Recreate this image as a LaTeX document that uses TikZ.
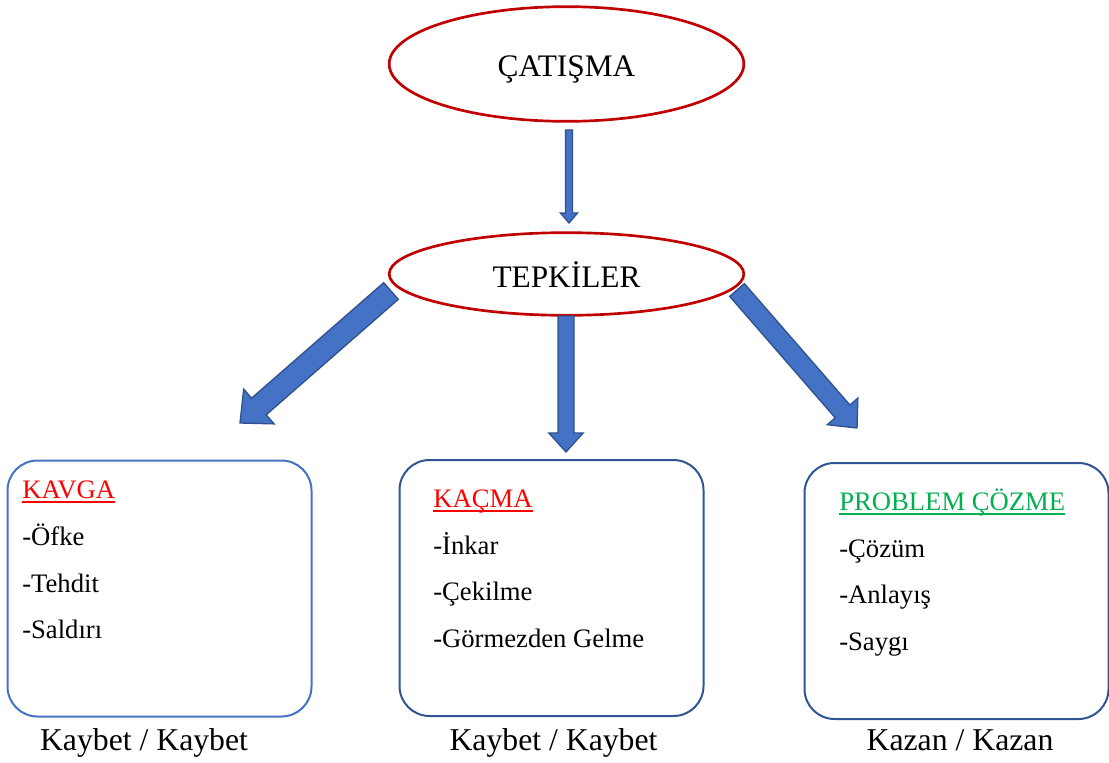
\documentclass[tikz,border=0pt]{standalone}
\usepackage{fontspec}
\setmainfont{Liberation Serif}
\usetikzlibrary{shapes.geometric,calc,positioning}
\definecolor{ellred}{HTML}{C00000}
\definecolor{boxblue}{HTML}{4472C4}
\definecolor{boxdark}{HTML}{2F5597}
\definecolor{arrowfill}{HTML}{4472C4}
\definecolor{arrowline}{HTML}{2F528F}
\definecolor{headgreen}{HTML}{00B050}
\definecolor{headred}{HTML}{FF0000}
% underlined coloured heading
\newcommand\headline[2]{{\color{#1}\setbox0\hbox{#2}\rlap{\rule[-4pt]{\wd0}{1.5pt}}\box0}}
% block arrow: tail, tip, half shaft, half head, head length
\newcommand\blockarrow[5]{%
	\coordinate (h) at ($(#2)!#5!(#1)$);
	\draw[block arrow] ($(#1)!#3!90:(#2)$) -- ($(h)!#3!90:(#2)$) -- ($(h)!#4!90:(#2)$) -- (#2)
	-- ($(h)!#4!-90:(#2)$) -- ($(h)!#3!-90:(#2)$) -- ($(#1)!#3!-90:(#2)$) -- cycle;}

\begin{document}
\begin{tikzpicture}[x=0.75pt,y=-0.75pt]
		
		% Setup the styles
		\tikzset{oval style/.style={ellipse,
				draw=ellred,
				line width=2pt,
				fill=white,
				minimum width=266pt,
				inner sep=0pt,
				font=\fontsize{23.5}{28}\selectfont,
				text height=19.5pt,
				text depth=0pt},
			box style/.style={rectangle,
				rounded corners=22.5pt,
				line width=1.5pt,
				fill=white,
				minimum width=228pt,
				minimum height=192pt},
			item style/.style={anchor=base west, inner sep=0pt,
				font=\fontsize{20}{24}\selectfont},
			result style/.style={anchor=base, inner sep=0pt,
				font=\fontsize{23.8}{28}\selectfont},
			block arrow/.style={fill=arrowfill, draw=arrowline,
				line width=1pt, line join=miter}}
		
		\useasboundingbox (0,0) rectangle (1109,763);
		
		% Draw the ovals
		\node[oval style, minimum height=86pt] at (566.5,64)  (catisma) {ÇATIŞMA};
		\node[oval style, minimum height=62pt] at (566.5,274) (tepkiler) {TEPKİLER};
		
		% Draw the boxes
		\node[box style, draw=boxblue] at (159.5,588.5) (kavga) {};
		\node[box style, draw=boxdark] at (551.5,588)   (kacma) {};
		\node[box style, draw=boxdark] at (956.5,591)   (cozme) {};
		
		% Box contents
		\node[item style] at (22,498) (kavgahead) {\headline{headred}{KAVGA}};
		\node[item style] at (22,545) (ofke)      {-Öfke};
		\node[item style] at (22,592) (tehdit)    {-Tehdit};
		\node[item style] at (22,638) (saldiri)   {-Saldırı};
		
		\node[item style] at (433,507) (kacmahead) {\headline{headred}{KAÇMA}};
		\node[item style] at (433,554) (inkar)     {-İnkar};
		\node[item style] at (433,600) (cekilme)   {-Çekilme};
		\node[item style] at (433,647) (gormezden) {-Görmezden Gelme};
		
		\node[item style] at (839,510) (cozmehead) {\headline{headgreen}{PROBLEM ÇÖZME}};
		\node[item style] at (839,557) (cozum)     {-Çözüm};
		\node[item style] at (839,603) (anlayis)   {-Anlayış};
		\node[item style] at (839,650) (saygi)     {-Saygı};
		
		% Results under the boxes
		\node[result style] at (144,750)   (kavgares) {Kaybet / Kaybet};
		\node[result style] at (553.5,750) (kacmares) {Kaybet / Kaybet};
		\node[result style] at (960,750)   (cozmeres) {Kazan / Kazan};
		
		% Arrow ends
		\coordinate (toptail)   at (569,130);
		\coordinate (toptip)    at (569,223);
		\coordinate (lefttail)  at (391,291);
		\coordinate (lefttip)   at (240,423);
		\coordinate (midtail)   at (566,316);
		\coordinate (midtip)    at (566,452);
		\coordinate (righttail) at (737,290);
		\coordinate (righttip)  at (857,428);
		
		% Connect with block arrows
		\blockarrow{toptail}{toptip}{2.6pt}{6.4pt}{7.5pt}
		\blockarrow{lefttail}{lefttip}{8.3pt}{17.3pt}{18.8pt}
		\blockarrow{midtail}{midtip}{6pt}{12.9pt}{14.3pt}
		\blockarrow{righttail}{righttip}{7.3pt}{15.2pt}{16.5pt}
		
\end{tikzpicture}
\end{document}
